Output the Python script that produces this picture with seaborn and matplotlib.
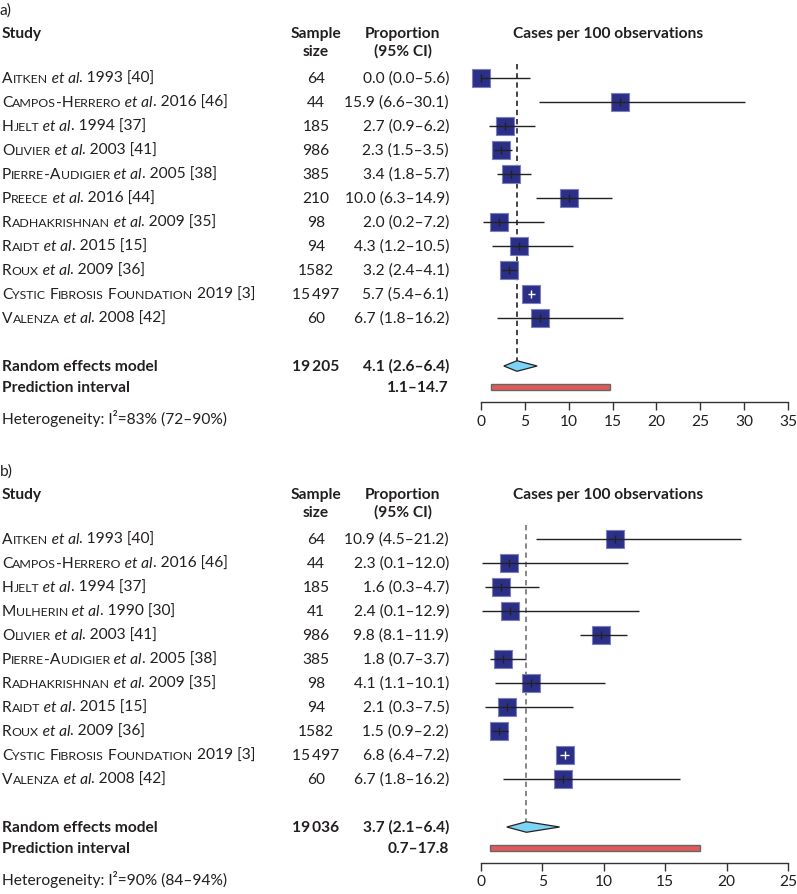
import pandas as pd
import matplotlib
matplotlib.use("Agg")
import matplotlib.pyplot as plt
import seaborn as sns

# ---- data, panel a ----
a_studies = ["Aitken et al. 1993 [40]", "Campos-Herrero et al. 2016 [46]", "Hjelt et al. 1994 [37]",
             "Olivier et al. 2003 [41]", "Pierre-Audigier et al. 2005 [38]", "Preece et al. 2016 [44]",
             "Radhakrishnan et al. 2009 [35]", "Raidt et al. 2015 [15]", "Roux et al. 2009 [36]",
             "Cystic Fibrosis Foundation 2019 [3]", "Valenza et al. 2008 [42]"]
a_n = [64, 44, 185, 986, 385, 210, 98, 94, 1582, 15497, 60]
a_est = [0.0, 15.9, 2.7, 2.3, 3.4, 10.0, 2.0, 4.3, 3.2, 5.7, 6.7]
a_lo = [0.0, 6.6, 0.9, 1.5, 1.8, 6.3, 0.2, 1.2, 2.4, 5.4, 1.8]
a_hi = [5.6, 30.1, 6.2, 3.5, 5.7, 14.9, 7.2, 10.5, 4.1, 6.1, 16.2]
a_pooled = [4.1, 2.6, 6.4]
a_total = 19205
a_pred = [1.1, 14.7]
a_het = "83% (72\u201390%)"
a_ticks = [0, 5, 10, 15, 20, 25, 30, 35]

# ---- data, panel b ----
b_studies = ["Aitken et al. 1993 [40]", "Campos-Herrero et al. 2016 [46]", "Hjelt et al. 1994 [37]",
             "Mulherin et al. 1990 [30]", "Olivier et al. 2003 [41]", "Pierre-Audigier et al. 2005 [38]",
             "Radhakrishnan et al. 2009 [35]", "Raidt et al. 2015 [15]", "Roux et al. 2009 [36]",
             "Cystic Fibrosis Foundation 2019 [3]", "Valenza et al. 2008 [42]"]
b_n = [64, 44, 185, 41, 986, 385, 98, 94, 1582, 15497, 60]
b_est = [10.9, 2.3, 1.6, 2.4, 9.8, 1.8, 4.1, 2.1, 1.5, 6.8, 6.7]
b_lo = [4.5, 0.1, 0.3, 0.1, 8.1, 0.7, 1.1, 0.3, 0.9, 6.4, 1.8]
b_hi = [21.2, 12.0, 4.7, 12.9, 11.9, 3.7, 10.1, 7.5, 2.2, 7.2, 16.2]
b_pooled = [3.7, 2.1, 6.4]
b_total = 19036
b_pred = [0.7, 17.8]
b_het = "90% (84\u201394%)"
b_ticks = [0, 5, 10, 15, 20, 25]

sns.set_theme(style="white")
plt.rcParams["font.family"] = ["Lato", "DejaVu Sans"]

W, H = 797, 894
fig = plt.figure(figsize=(W / 100, H / 100), dpi=100)
renderer = fig.canvas.get_renderer()

TXT = "#231f20"
FS = 11.2
NAVY = "#2b2f87"


def fmt_n(n):
    # thin-space thousands separator only for 5+ digit numbers
    return f"{n:,}".replace(",", "\u2009") if n >= 10000 else str(n)


def runs_for(label):
    # author names in small caps, "et al" in italics
    if " et al." in label:
        name, rest = label.split(" et al.")
        tail = [(" et al", {"style": "italic"}), ("." + rest, {})]
    else:
        parts = label.split(" ")
        name = " ".join(parts[:-2])
        tail = [(" " + " ".join(parts[-2:]), {})]
    runs = []
    for ch in name:
        size = FS * 0.8 if ch.islower() else FS
        t = ch.upper()
        if runs and runs[-1][1].get("size") == size:
            runs[-1] = (runs[-1][0] + t, runs[-1][1])
        else:
            runs.append((t, {"size": size}))
    return runs + tail


def draw_runs(x, y, runs):
    for txt, kw in runs:
        opts = {"size": FS, "color": TXT}
        opts.update(kw)
        t = fig.text(x, H - y, txt, transform=None, va="baseline", ha="left", **opts)
        x = t.get_window_extent(renderer).x1


def put(x, y, s, ha="left", bold=False, size=FS):
    fig.text(x / W, 1 - y / H, s, ha=ha, va="baseline", size=size, color=TXT,
             fontweight="bold" if bold else "normal")


def panel(top, tag, studies, n, est, lo, hi, pooled, total, pred, het, ticks, dash_color):
    row0 = top + 78
    step = 24
    base = 5

    put(0, top + 15, tag)
    put(2, top + 38, "Study", bold=True)
    put(316, top + 38, "Sample", ha="center", bold=True)
    put(316, top + 56, "size", ha="center", bold=True)
    put(403, top + 38, "Proportion", ha="center", bold=True)
    put(403, top + 56, "(95% CI)", ha="center", bold=True)
    put(608, top + 38, "Cases per 100 observations", ha="center", bold=True)

    for i, lab in enumerate(studies):
        y = row0 + i * step + base
        draw_runs(2, y, runs_for(lab))
        put(316, y, fmt_n(n[i]), ha="center")
        put(449, y, f"{est[i]:.1f} ({lo[i]:.1f}\u2013{hi[i]:.1f})", ha="right")

    r_rand = len(studies) + 1
    r_pred = r_rand + 0.875
    y_rand = row0 + r_rand * step + base
    y_pred = row0 + r_pred * step + base
    put(2, y_rand, "Random effects model", bold=True)
    put(316, y_rand, fmt_n(total), ha="center", bold=True)
    put(449, y_rand, f"{pooled[0]:.1f} ({pooled[1]:.1f}\u2013{pooled[2]:.1f})", ha="right", bold=True)
    put(2, y_pred, "Prediction interval", bold=True)
    put(449, y_pred, f"{pred[0]:.1f}\u2013{pred[1]:.1f}", ha="right", bold=True)
    put(2, top + 424, "Heterogeneity: I\u00b2=" + het)

    # forest axes
    y_top, y_bot = top + 60, top + 402
    ax = fig.add_axes([481 / W, 1 - y_bot / H, (788 - 481) / W, (y_bot - y_top) / H])
    ax.set_xlim(ticks[0], ticks[-1])
    ax.set_ylim((y_bot - row0) / step, (y_top - row0) / step)
    ax.patch.set_alpha(0)

    df = pd.DataFrame({"est": est, "lo": lo, "hi": hi, "row": range(len(est))})
    ax.vlines(pooled[0], -0.6, r_rand, color=dash_color, lw=1.1, linestyles=(0, (3.5, 2.5)), zorder=1)
    sns.scatterplot(data=df, x="est", y="row", marker="s", s=175, color=NAVY,
                    edgecolor="#7c80bd", linewidth=0.8, ax=ax, zorder=3, legend=False, clip_on=False)
    narrow = (df["hi"] - df["lo"]) < 1.0
    line_col = ["white" if w else "#222222" for w in narrow]
    ax.hlines(df["row"], df["lo"], df["hi"], colors=line_col, lw=1.0, zorder=4, clip_on=False)
    ax.scatter(df["est"], df["row"], marker="|", s=30, c=line_col, linewidths=1.0, zorder=4, clip_on=False)

    h = 0.22
    ax.fill([pooled[1], pooled[0], pooled[2], pooled[0]],
            [r_rand, r_rand - h, r_rand, r_rand + h],
            facecolor="#7dd3f4", edgecolor="#222222", lw=0.9, zorder=3)
    ax.barh(r_pred, pred[1] - pred[0], left=pred[0], height=0.22,
            color="#e05a5a", edgecolor="#666666", lw=1.0, zorder=3)

    sns.despine(ax=ax, left=True)
    ax.spines["bottom"].set_bounds(ticks[0], ticks[-1])
    ax.spines["bottom"].set_color("#333333")
    ax.spines["bottom"].set_linewidth(1.0)
    ax.set_yticks([])
    ax.set_xticks(ticks)
    ax.tick_params(axis="x", bottom=True, direction="out", length=6, width=1.0,
                   color="#333333", labelsize=FS, labelcolor=TXT, pad=3)
    ax.set_xlabel("")
    ax.set_ylabel("")
    return ax


panel(0, "a)", a_studies, a_n, a_est, a_lo, a_hi, a_pooled, a_total, a_pred, a_het, a_ticks, "#111111")
panel(461, "b)", b_studies, b_n, b_est, b_lo, b_hi, b_pooled, b_total, b_pred, b_het, b_ticks, "#666666")

fig.savefig("out.png", dpi=100)
